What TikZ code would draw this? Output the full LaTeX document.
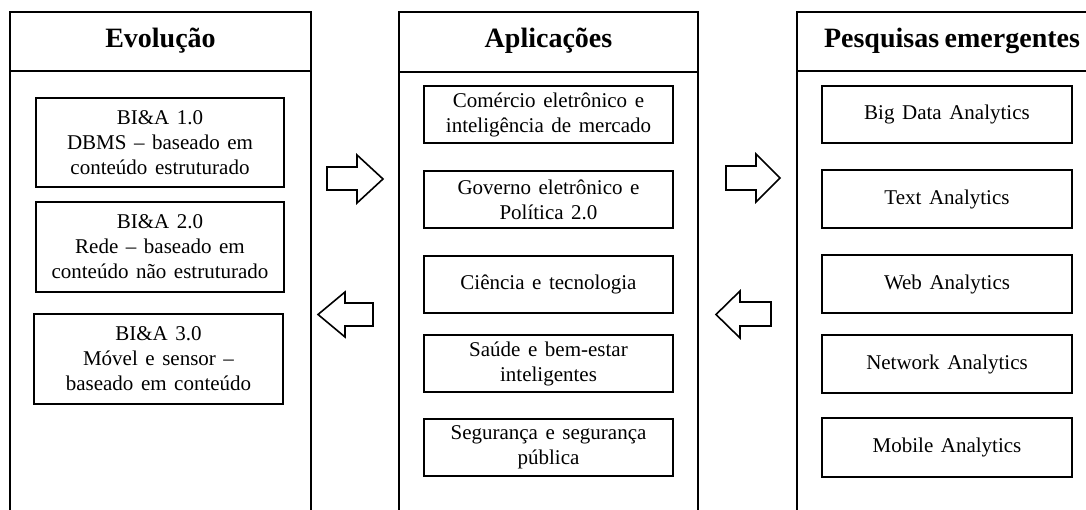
\documentclass[tikz,border=0pt]{standalone}
\usepackage{fontspec}
\setmainfont{Liberation Serif}
\newcommand{\titlefont}{\fontsize{28}{32}\selectfont\bfseries\spaceskip=0.2em\relax}
\newcommand{\itemfont}{\fontsize{21}{25}\selectfont\spaceskip=0.36em plus 0.1em\relax}
\begin{document}
\begin{tikzpicture}[x=1pt,y=-1pt,
  outer/.style={line width=2.6pt},
  sep/.style={line width=1.1pt},
  title/.style={font=\titlefont, inner sep=0pt},
  item/.style={draw, line width=2.4pt, align=center, inner sep=0pt,
    font=\itemfont},
  blockarrow/.style={draw, line width=1.6pt, fill=white, line join=miter}
]
\useasboundingbox (0,0) rectangle (1086,510);
% outer columns
\draw[outer] (10,515) -- (10,12) -- (311,12) -- (311,515);
\draw[sep] (10,71) -- (311,71);
\draw[outer] (399,515) -- (399,12) -- (698,12) -- (698,515);
\draw[sep] (399,72) -- (698,72);
\draw[outer] (797,515) -- (797,12) -- (1095,12);
\draw[sep] (797,71) -- (1095,71);
% titles
\node[title] (tEvo) at (160.5,41) {Evolução};
\node[title] (tApl) at (548.5,41) {Aplicações};
\node[title] (tPes) at (952,41) {Pesquisas emergentes};
% left items
\node[item, minimum width=248, minimum height=89] (e1) at (160,142.5)
  {BI\&A 1.0\\DBMS -- baseado em\\conteúdo estruturado};
\node[item, minimum width=248, minimum height=90] (e2) at (160,247)
  {BI\&A 2.0\\Rede -- baseado em\\conteúdo não estruturado};
\node[item, minimum width=249, minimum height=90] (e3) at (158.5,359)
  {BI\&A 3.0\\Móvel e sensor --\\baseado em conteúdo};
% middle items
\node[item, minimum width=249, minimum height=57] (a1) at (548.5,114.5)
  {Comércio eletrônico e\\inteligência de mercado};
\node[item, minimum width=249, minimum height=57] (a2) at (548.5,199.5)
  {Governo eletrônico e\\Política 2.0};
\node[item, minimum width=249, minimum height=57] (a3) at (548.5,284.5)
  {Ciência e tecnologia};
\node[item, minimum width=249, minimum height=57] (a4) at (548.5,363.5)
  {Saúde e bem-estar\\inteligentes};
\node[item, minimum width=249, minimum height=57] (a5) at (548.5,447.5)
  {Segurança e segurança\\pública};
% right items
\node[item, minimum width=250, minimum height=57] (p1) at (947,114.5) {Big Data Analytics};
\node[item, minimum width=250, minimum height=58] (p2) at (947,199) {Text Analytics};
\node[item, minimum width=250, minimum height=58] (p3) at (947,284) {Web Analytics};
\node[item, minimum width=250, minimum height=58] (p4) at (947,364) {Network Analytics};
\node[item, minimum width=250, minimum height=59] (p5) at (947,447.5) {Mobile Analytics};
% block arrows
\draw[blockarrow] (327,167) -- (357,167) -- (357,155) -- (383,179) -- (357,203) -- (357,190) -- (327,190) -- cycle;
\draw[blockarrow] (726,166) -- (756,166) -- (756,154) -- (780,178) -- (756,202) -- (756,190) -- (726,190) -- cycle;
\draw[blockarrow] (373,303) -- (345,303) -- (345,292) -- (318,314.5) -- (345,337) -- (345,326) -- (373,326) -- cycle;
\draw[blockarrow] (771,302) -- (740,302) -- (740,291) -- (716,314.5) -- (740,338) -- (740,326) -- (771,326) -- cycle;
\end{tikzpicture}
\end{document}
